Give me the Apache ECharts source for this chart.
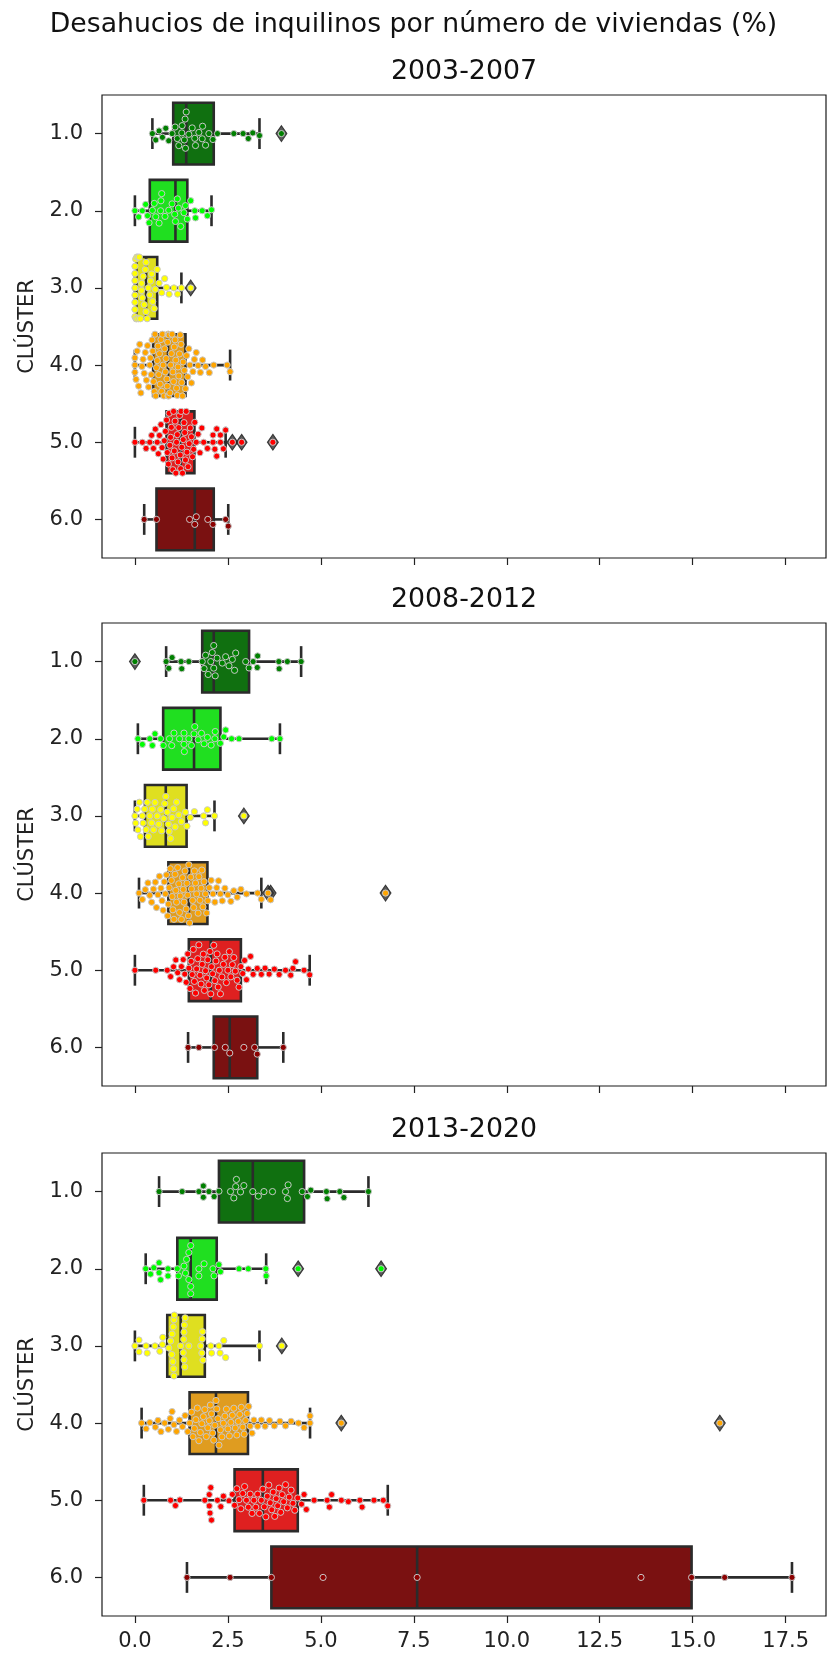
<!DOCTYPE html>
<html>
<head>
<meta charset="utf-8">
<script src="https://cdn.jsdelivr.net/npm/echarts@6.0.0/dist/echarts.min.js"></script>
<style>
  html, body { margin: 0; padding: 0; background: #fff; }
  #chart { width: 827px; height: 1656px; }
</style>
</head>
<body>
<div id="chart"></div>
<script>
const clusters = ['1.0', '2.0', '3.0', '4.0', '5.0', '6.0'];
const periods = ['2003-2007', '2008-2012', '2013-2020'];
const xTicks = [0, 2.5, 5, 7.5, 10, 12.5, 15, 17.5];

// box stats per cluster: [whisker low, q1, median, q3, whisker high]
const box2003 = [
  [0.47, 1.03, 1.38, 2.12, 3.35],
  [0.00, 0.40, 1.09, 1.41, 2.06],
  [0.00, 0.04, 0.30, 0.60, 1.25],
  [0.00, 0.49, 0.89, 1.36, 2.56],
  [0.00, 0.85, 1.23, 1.60, 2.44],
  [0.25, 0.58, 1.61, 2.12, 2.51]
];
const box2008 = [
  [0.84, 1.81, 2.12, 3.07, 4.47],
  [0.08, 0.76, 1.59, 2.30, 3.90],
  [0.00, 0.27, 0.83, 1.39, 2.14],
  [0.11, 0.90, 1.45, 1.95, 3.40],
  [0.00, 1.45, 2.04, 2.85, 4.70],
  [1.43, 2.12, 2.55, 3.29, 3.99]
];
const box2013 = [
  [0.65, 2.26, 3.17, 4.55, 6.28],
  [0.29, 1.14, 1.50, 2.20, 3.53],
  [0.00, 0.87, 1.23, 1.88, 3.35],
  [0.18, 1.47, 2.18, 3.04, 4.71],
  [0.24, 2.68, 3.44, 4.38, 6.80],
  [1.40, 3.67, 7.59, 14.97, 17.67]
];

// individual values (swarm points) per cluster
const pts2003 = [
  [0.47,0.56,0.65,0.74,0.83,0.91,1.00,1.08,1.14,1.18,1.26,1.27,1.33,1.35,1.36,1.38,1.45,1.54,1.61,1.63,1.72,1.81,1.82,1.90,1.99,2.10,2.22,2.66,2.91,3.05,3.17,3.35,3.94],
  [0.00,0.10,0.20,0.29,0.34,0.38,0.47,0.52,0.56,0.65,0.69,0.70,0.72,0.81,0.91,1.00,1.07,1.09,1.14,1.17,1.23,1.32,1.36,1.41,1.50,1.61,1.63,1.81,1.95,2.06],
  [0.00,0.00,0.00,0.00,0.00,0.00,0.00,0.00,0.02,0.03,0.05,0.05,0.08,0.10,0.12,0.15,0.18,0.18,0.20,0.22,0.25,0.28,0.30,0.30,0.33,0.36,0.40,0.42,0.45,0.48,0.52,0.55,0.60,0.65,0.72,0.80,0.85,0.92,1.05,1.15,1.25,1.50],
  [0.00,0.00,0.00,0.03,0.06,0.10,0.13,0.16,0.19,0.22,0.25,0.28,0.31,0.34,0.37,0.40,0.42,0.44,0.46,0.48,0.50,0.52,0.54,0.56,0.58,0.60,0.62,0.64,0.66,0.68,0.70,0.72,0.74,0.76,0.78,0.80,0.82,0.84,0.86,0.87,0.88,0.89,0.89,0.90,0.91,0.92,0.94,0.96,0.98,1.00,1.02,1.04,1.06,1.08,1.10,1.12,1.14,1.16,1.18,1.20,1.22,1.24,1.26,1.28,1.30,1.33,1.36,1.39,1.42,1.45,1.48,1.52,1.56,1.60,1.65,1.70,1.76,1.82,1.90,2.00,2.12,2.48,2.56],
  [0.00,0.20,0.30,0.40,0.45,0.50,0.55,0.60,0.63,0.66,0.70,0.73,0.76,0.79,0.82,0.85,0.87,0.90,0.92,0.94,0.96,0.98,1.00,1.02,1.04,1.06,1.08,1.10,1.12,1.14,1.16,1.18,1.20,1.22,1.23,1.24,1.26,1.28,1.30,1.32,1.34,1.36,1.38,1.40,1.43,1.46,1.49,1.52,1.55,1.58,1.61,1.65,1.70,1.75,1.80,1.85,1.95,2.10,2.10,2.15,2.20,2.20,2.30,2.30,2.38,2.44,2.62,2.87,3.71],
  [0.25,0.58,1.47,1.61,1.65,1.96,2.10,2.44,2.51]
];
const pts2008 = [
  [0.00,0.84,0.91,1.00,1.24,1.26,1.45,1.81,1.86,1.90,1.97,2.04,2.08,2.12,2.12,2.16,2.21,2.35,2.44,2.53,2.62,2.68,2.71,2.98,3.07,3.18,3.29,3.30,3.87,3.88,4.10,4.47],
  [0.08,0.20,0.40,0.47,0.54,0.69,0.76,0.93,0.99,1.05,1.20,1.32,1.32,1.33,1.45,1.52,1.59,1.61,1.70,1.79,1.86,1.95,2.05,2.15,2.16,2.30,2.39,2.44,2.60,2.80,3.68,3.90],
  [0.00,0.02,0.06,0.08,0.12,0.15,0.20,0.22,0.26,0.30,0.33,0.36,0.40,0.45,0.47,0.50,0.54,0.60,0.64,0.69,0.72,0.78,0.80,0.83,0.87,0.90,0.92,0.96,1.00,1.04,1.08,1.12,1.18,1.25,1.36,1.40,1.49,1.60,1.85,1.90,1.95,2.14,2.93],
  [0.11,0.20,0.28,0.35,0.40,0.45,0.50,0.55,0.58,0.62,0.66,0.70,0.73,0.76,0.79,0.82,0.85,0.88,0.90,0.92,0.95,0.98,1.00,1.02,1.05,1.08,1.10,1.12,1.15,1.18,1.20,1.22,1.25,1.28,1.30,1.32,1.35,1.38,1.40,1.42,1.44,1.45,1.47,1.50,1.52,1.55,1.58,1.60,1.63,1.66,1.70,1.72,1.75,1.78,1.80,1.83,1.86,1.90,1.93,1.96,2.00,2.05,2.10,2.15,2.20,2.25,2.30,2.35,2.42,2.50,2.58,2.66,2.75,2.85,3.00,3.30,3.40,3.58,3.65,6.74],
  [0.00,0.56,0.87,0.96,1.04,1.10,1.15,1.20,1.25,1.30,1.34,1.38,1.42,1.45,1.48,1.51,1.54,1.57,1.60,1.63,1.66,1.69,1.72,1.75,1.78,1.81,1.84,1.87,1.90,1.93,1.96,1.99,2.02,2.04,2.06,2.09,2.12,2.15,2.18,2.21,2.24,2.27,2.30,2.34,2.38,2.42,2.46,2.50,2.54,2.58,2.62,2.66,2.70,2.75,2.80,2.85,2.90,2.95,3.00,3.05,3.11,3.18,3.29,3.40,3.50,3.61,3.75,3.88,4.05,4.19,4.25,4.32,4.55,4.70],
  [1.43,1.72,2.14,2.43,2.55,2.93,3.22,3.29,3.99]
];
const pts2013 = [
  [0.65,1.27,1.72,1.84,1.84,1.99,2.13,2.26,2.57,2.66,2.71,2.73,2.84,2.93,3.17,3.32,3.47,3.70,4.05,4.10,4.12,4.50,4.64,4.73,5.15,5.17,5.51,5.62,6.28],
  [0.29,0.42,0.51,0.65,0.65,0.69,0.89,0.89,1.14,1.17,1.32,1.36,1.39,1.45,1.45,1.50,1.50,1.50,1.72,1.72,1.86,2.10,2.13,2.26,2.30,2.80,3.05,3.52,3.53,4.39,6.62],
  [0.00,0.11,0.11,0.30,0.33,0.54,0.67,0.74,0.75,0.91,0.96,0.99,1.00,1.02,1.03,1.04,1.05,1.05,1.06,1.23,1.30,1.31,1.32,1.32,1.33,1.34,1.35,1.45,1.77,1.80,1.81,1.82,1.83,2.04,2.06,2.26,2.29,2.39,2.44,3.35,3.95],
  [0.18,0.30,0.40,0.55,0.62,0.70,0.80,0.90,0.95,1.00,1.05,1.12,1.20,1.28,1.35,1.42,1.47,1.52,1.56,1.60,1.64,1.68,1.72,1.76,1.80,1.84,1.88,1.92,1.96,2.00,2.03,2.06,2.09,2.12,2.15,2.18,2.20,2.23,2.26,2.30,2.34,2.38,2.42,2.46,2.50,2.54,2.58,2.62,2.66,2.70,2.74,2.78,2.82,2.86,2.90,2.94,2.98,3.02,3.06,3.10,3.15,3.20,3.30,3.40,3.50,3.62,3.75,3.90,4.05,4.20,4.40,4.55,4.71,4.71,5.55,15.73],
  [0.24,0.96,1.09,1.21,1.88,2.00,2.00,2.02,2.04,2.06,2.22,2.31,2.38,2.53,2.62,2.68,2.74,2.80,2.85,2.90,2.95,3.00,3.05,3.10,3.15,3.20,3.25,3.30,3.35,3.40,3.44,3.48,3.52,3.56,3.60,3.64,3.68,3.72,3.76,3.80,3.84,3.88,3.92,3.96,4.00,4.05,4.10,4.15,4.20,4.25,4.30,4.38,4.48,4.55,4.61,4.82,5.17,5.23,5.29,5.55,5.74,6.05,6.11,6.43,6.68,6.80],
  [1.40,2.56,3.67,5.06,7.59,13.61,14.97,15.86,17.67]
];

const boxes = [box2003, box2008, box2013];
const points = [pts2003, pts2008, pts2013];

const pointColors = ['#008000', '#00ff00', '#ffff00', '#ffa500', '#ff0000', '#8b0000'];
const boxColors = ['#107010', '#20df20', '#dfdf20', '#df9c20', '#df2020', '#7a1111'];
const lineColor = '#2b2b2b';
const font = 'DejaVu Sans';

const X_MIN = -0.885, X_MAX = 18.585;
const gridLeft = 102, gridRight = 1, gridH = 463;
const gridTops = [95, 623, 1153];
const gridW = 827 - gridLeft - gridRight;
const pxPerUnit = gridW / (X_MAX - X_MIN);
const bandPx = gridH / clusters.length;
const dotSize = 7.2;

// simple beeswarm: offset (px) of each point across the category band
function swarm(vals) {
  const order = vals.map((v, i) => i).sort((a, b) => vals[a] - vals[b]);
  const placed = [];
  const offs = new Array(vals.length);
  const d = dotSize;
  order.forEach(i => {
    const x = vals[i] * pxPerUnit;
    const near = placed.filter(p => Math.abs(p.x - x) < d);
    const cands = [0];
    near.forEach(p => {
      const dy = Math.sqrt(d * d - (p.x - x) * (p.x - x));
      cands.push(p.y + dy, p.y - dy);
    });
    cands.sort((a, b) => Math.abs(a) - Math.abs(b));
    let y = cands.find(c => near.every(p => (p.x - x) ** 2 + (p.y - c) ** 2 >= d * d - 0.01));
    if (y === undefined) y = 0;
    placed.push({ x, y });
    offs[i] = y;
  });
  const lim = bandPx * 0.4;
  return offs.map(o => Math.max(-lim, Math.min(lim, o)));
}

function renderBox(params, api) {
  const idx = api.value(0);
  const lo = api.coord([api.value(1), idx]);
  const q1 = api.coord([api.value(2), idx]);
  const med = api.coord([api.value(3), idx]);
  const q3 = api.coord([api.value(4), idx]);
  const hi = api.coord([api.value(5), idx]);
  const band = api.size([0, 1])[1];
  const h = band * 0.8;
  const cap = h * 0.5;
  const y = q1[1];
  const ls = { stroke: lineColor, lineWidth: 2.6 };
  return {
    type: 'group',
    children: [
      { type: 'line', shape: { x1: lo[0], y1: y, x2: q1[0], y2: y }, style: ls },
      { type: 'line', shape: { x1: q3[0], y1: y, x2: hi[0], y2: y }, style: ls },
      { type: 'line', shape: { x1: lo[0], y1: y - cap / 2, x2: lo[0], y2: y + cap / 2 }, style: ls },
      { type: 'line', shape: { x1: hi[0], y1: y - cap / 2, x2: hi[0], y2: y + cap / 2 }, style: ls },
      { type: 'rect', shape: { x: q1[0], y: y - h / 2, width: q3[0] - q1[0], height: h },
        style: { fill: boxColors[idx], stroke: lineColor, lineWidth: 2.6 } },
      { type: 'line', shape: { x1: med[0], y1: y - h / 2, x2: med[0], y2: y + h / 2 }, style: ls }
    ]
  };
}

const grid = [], xAxis = [], yAxis = [], series = [];
const graphic = [{
  type: 'text', x: 413.5, y: 25,
  style: { text: 'Desahucios de inquilinos por número de viviendas (%)', font: '26.7px ' + font,
    fill: '#111', textAlign: 'center', textVerticalAlign: 'middle' }
}];

periods.forEach((period, p) => {
  grid.push({ left: gridLeft, right: gridRight, top: gridTops[p], height: gridH,
    show: true, borderColor: '#1a1a1a', borderWidth: 1.2, backgroundColor: 'transparent' });
  graphic.push({
    type: 'text', x: gridLeft + gridW / 2, y: gridTops[p] - 23,
    style: { text: period, font: '26.8px ' + font, fill: '#111', textAlign: 'center', textVerticalAlign: 'middle' }
  });
  xAxis.push({
    gridIndex: p, type: 'value', min: X_MIN, max: X_MAX,
    axisLine: { show: false, onZero: false }, splitLine: { show: false },
    axisTick: { show: true, length: 7, customValues: xTicks, lineStyle: { color: '#222', width: 1.2 } },
    axisLabel: { show: p === 2, customValues: xTicks, formatter: v => v.toFixed(1),
      fontFamily: font, fontSize: 21, color: '#222', margin: 15 }
  });
  yAxis.push({
    gridIndex: p, type: 'value', min: -0.5, max: clusters.length - 0.5, inverse: true,
    name: 'CLÚSTER', nameLocation: 'middle', nameRotate: 90, nameGap: 64,
    nameTextStyle: { fontFamily: font, fontSize: 21, color: '#222' },
    axisLine: { show: false, onZero: false }, splitLine: { show: false },
    axisTick: { show: true, length: 7, customValues: [0, 1, 2, 3, 4, 5], lineStyle: { color: '#222', width: 1.2 } },
    axisLabel: { customValues: [0, 1, 2, 3, 4, 5], formatter: v => clusters[Math.round(v)],
      fontFamily: font, fontSize: 21, color: '#222', margin: 19 }
  });

  const boxData = boxes[p].map((b, i) => [i].concat(b));
  series.push({
    type: 'custom', xAxisIndex: p, yAxisIndex: p, z: 2,
    renderItem: renderBox, encode: { x: [1, 2, 3, 4, 5], y: 0 }, data: boxData
  });

  const flierData = [], dotData = [];
  points[p].forEach((vals, i) => {
    const offs = swarm(vals);
    const b = boxes[p][i];
    vals.forEach((v, k) => {
      dotData.push([v, i + offs[k] / bandPx, i]);
      if (v < b[0] - 1e-6 || v > b[4] + 1e-6) flierData.push([v, i]);
    });
  });
  series.push({
    type: 'scatter', xAxisIndex: p, yAxisIndex: p, z: 3,
    symbol: 'diamond', symbolSize: [11, 16], data: flierData,
    itemStyle: { color: '#2f2f2f', borderColor: '#1a1a1a', borderWidth: 1 }
  });
  series.push({
    type: 'scatter', xAxisIndex: p, yAxisIndex: p, z: 4,
    symbolSize: dotSize - 1, data: dotData,
    itemStyle: { color: params => pointColors[params.data[2]], borderColor: '#c8c8c8', borderWidth: 1, opacity: 1 }
  });
});

const chart = echarts.init(document.getElementById('chart'));
chart.setOption({
  animation: false,
  backgroundColor: '#fff',
  graphic: graphic,
  grid: grid,
  xAxis: xAxis,
  yAxis: yAxis,
  series: series
});
</script>
</body>
</html>
